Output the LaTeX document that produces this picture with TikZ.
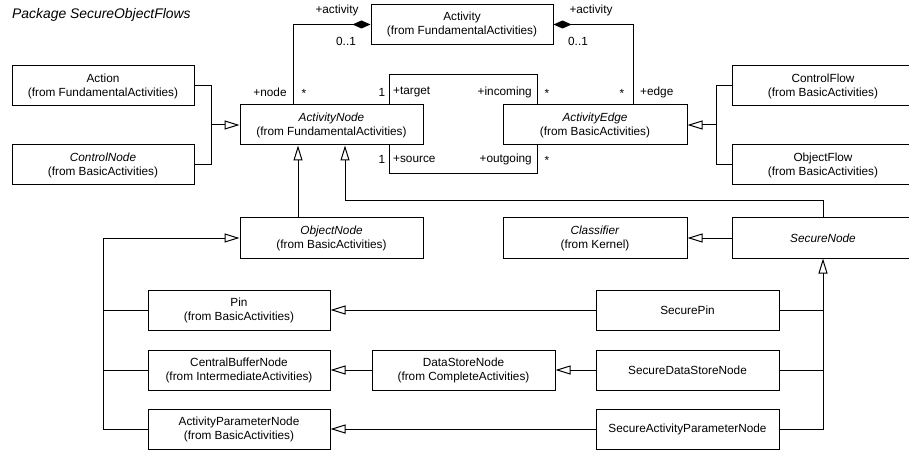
\documentclass[tikz,border=0pt]{standalone}
\usepackage{fontspec}
\setmainfont{Liberation Sans}
\usetikzlibrary{arrows.meta}
\begin{document}
\begin{tikzpicture}[x=1pt,y=-1pt,
  box/.style={draw, line width=1pt, inner sep=0pt, align=center, minimum width=182pt, minimum height=40pt, font=\fontsize{11.8}{14}\selectfont},
  conn/.style={line width=1pt},
  gen/.style={conn, -{Triangle[open,length=15pt,width=9pt,line width=1pt]}},
  compo/.style={conn, -{Diamond[length=18pt,width=8pt]}},
  lbl/.style={inner sep=0pt, font=\fontsize{11.8}{14}\selectfont}]
\clip (0,0) rectangle (909,454);
\useasboundingbox (0,0) rectangle (909,454);

\node[lbl, anchor=west, font=\fontsize{13.9}{16}\selectfont\itshape] (title) at (12,15) {Package SecureObjectFlows};

% boxes
\node[box] (activity) at (462,24.5) {Activity\\(from FundamentalActivities)};
\node[box] (action) at (103,86) {Action\\(from FundamentalActivities)};
\node[box] (controlnode) at (103,165) {\textit{ControlNode}\\(from BasicActivities)};
\node[box, minimum width=183pt] (activitynode) at (331.5,125) {\textit{ActivityNode}\\(from FundamentalActivities)};
\node[box, minimum width=184pt] (activityedge) at (595,125) {\textit{ActivityEdge}\\(from BasicActivities)};
\node[box] (controlflow) at (823,86) {ControlFlow\\(from BasicActivities)};
\node[box] (objectflow) at (823,165) {ObjectFlow\\(from BasicActivities)};
\node[box, minimum width=183pt] (objectnode) at (331.5,238) {\textit{ObjectNode}\\(from BasicActivities)};
\node[box, minimum width=184pt] (classifier) at (595,238) {\textit{Classifier}\\(from Kernel)};
\node[box] (securenode) at (823,238) {\textit{SecureNode}};
\node[box] (pin) at (239,310) {Pin\\(from BasicActivities)};
\node[box] (cbn) at (239,370) {CentralBufferNode\\(from IntermediateActivities)};
\node[box] (apn) at (239,429) {ActivityParameterNode\\(from BasicActivities)};
\node[box, minimum width=183pt] (dsn) at (463.5,370) {DataStoreNode\\(from CompleteActivities)};
\node[box, minimum width=183pt] (securepin) at (687.5,310) {SecurePin};
\node[box, minimum width=183pt] (sdsn) at (687.5,370) {SecureDataStoreNode};
\node[box, minimum width=183pt] (sapn) at (687.5,429) {SecureActivityParameterNode};

% generalizations into ActivityNode from Action / ControlNode
\coordinate (jl) at (211,125);
\draw[conn] (action.east) -| (jl);
\draw[conn] (controlnode.east) -| (jl);
\draw[gen] (jl) -- (activitynode.west);

% generalizations into ActivityEdge
\coordinate (jr) at (716,125);
\draw[conn] (controlflow.west) -| (jr);
\draw[conn] (objectflow.west) -| (jr);
\draw[gen] (jr) -- (activityedge.east);

% compositions with Activity
\draw[compo] ([xshift=-38.5pt]activitynode.north) |- (activity.west);
\draw[compo] ([xshift=38pt]activityedge.north) |- (activity.east);
\node[lbl] (l1) at (337,10) {+activity};
\node[lbl] (l2) at (346,41) {0..1};
\node[lbl] (l3) at (591,10) {+activity};
\node[lbl] (l4) at (578,41) {0..1};
\node[lbl] (l5) at (270,92) {+node};
\node[lbl] (l6) at (304,93) {*};
\node[lbl] (l7) at (622,93) {*};
\node[lbl, anchor=west] (l8) at (640,92) {+edge};

% target / source associations
\coordinate (t1) at (389,75);
\coordinate (t2) at (537,75);
\draw[conn] (activitynode.north -| t1) -- (t1) -- (t2) -- (activityedge.north -| t2);
\coordinate (b1) at (389,174);
\coordinate (b2) at (537,174);
\draw[conn] (activitynode.south -| b1) -- (b1) -- (b2) -- (activityedge.south -| b2);
\node[lbl] (l9) at (382,92) {1};
\node[lbl, anchor=west] (l10) at (393,92) {+target};
\node[lbl, anchor=east] (l11) at (532,92) {+incoming};
\node[lbl] (l12) at (547,93) {*};
\node[lbl] (l13) at (382,159) {1};
\node[lbl, anchor=west] (l14) at (393,159) {+source};
\node[lbl, anchor=east] (l15) at (532,159) {+outgoing};
\node[lbl] (l16) at (547,160) {*};

% ObjectNode and SecureNode generalize ActivityNode
\draw[gen] ([xshift=-33.5pt]objectnode.north) -- ([xshift=-33.5pt]activitynode.south);
\coordinate (s1) at (345,201);
\coordinate (s2) at (823,201);
\draw[gen] (securenode.north) -- (s2) -- (s1) -- (activitynode.south -| s1);

% SecureNode -> Classifier
\draw[gen] (securenode.west) -- (classifier.east);

% left bus to ObjectNode
\coordinate (lb) at (103,238);
\draw[conn] (pin.west) -| (lb);
\draw[conn] (cbn.west) -| (lb);
\draw[conn] (apn.west) -| (lb);
\draw[gen] (lb) -- (objectnode.west);

% right bus to SecureNode
\draw[gen] (sapn.east) -| (securenode.south);
\draw[conn] (securepin.east) -- (securepin.east -| securenode.south);
\draw[conn] (sdsn.east) -- (sdsn.east -| securenode.south);

% horizontal generalizations
\draw[gen] (securepin.west) -- (pin.east);
\draw[gen] (sdsn.west) -- (dsn.east);
\draw[gen] (dsn.west) -- (cbn.east);
\draw[gen] (sapn.west) -- (apn.east);
\end{tikzpicture}
\end{document}
